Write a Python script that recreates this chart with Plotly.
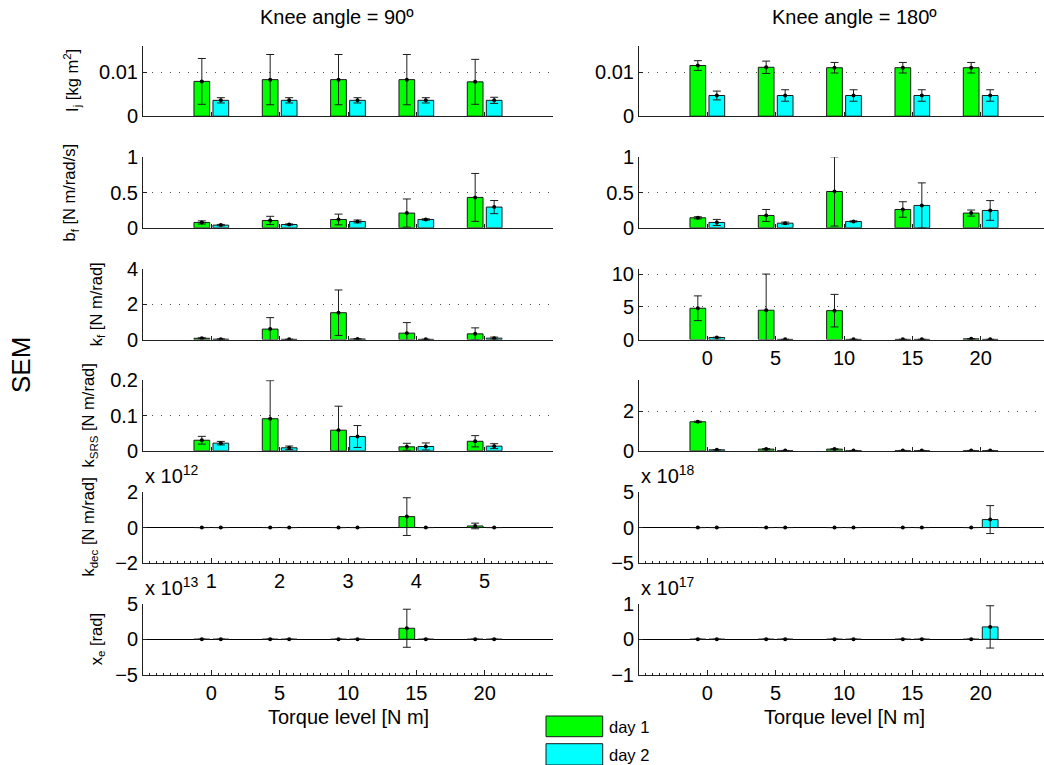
import plotly.graph_objects as go

# ---------------------------------------------------------------- data
TORQUE = [0, 5, 10, 15, 20]
DAY_LABELS = ["day 1", "day 2"]
COL_TITLES = ["Knee angle = 90º", "Knee angle = 180º"]
X_TITLE = "Torque level [N m]"
ROW_LABELS = [
    "I<sub>j</sub> [kg m<sup>2</sup>]",
    "b<sub>f</sub> [N m/rad/s]",
    "k<sub>f</sub> [N m/rad]",
    "k<sub>SRS</sub> [N m/rad]",
    "k<sub>dec</sub> [N m/rad]",
    "x<sub>e</sub> [rad]",
]

# knee angle 90 deg : means and SEM per torque level (day 1 / day 2)
IJ_90_D1 = [0.0079, 0.0083, 0.0083, 0.0083, 0.0078]
IJ_90_D1_SEM = [0.0052, 0.0057, 0.0057, 0.0057, 0.0051]
IJ_90_D2 = [0.0036, 0.0036, 0.0036, 0.0036, 0.0036]
IJ_90_D2_SEM = [0.0006, 0.0006, 0.0006, 0.0006, 0.0007]

BF_90_D1 = [0.076, 0.104, 0.118, 0.209, 0.431]
BF_90_D1_SEM = [0.022, 0.059, 0.076, 0.200, 0.340]
BF_90_D2 = [0.038, 0.047, 0.090, 0.118, 0.294]
BF_90_D2_SEM = [0.010, 0.008, 0.020, 0.010, 0.093]

KF_90_D1 = [0.07, 0.59, 1.52, 0.36, 0.32]
KF_90_D1_SEM = [0.03, 0.65, 1.29, 0.60, 0.34]
KF_90_D2 = [0.02, 0.01, 0.03, 0.01, 0.076]
KF_90_D2_SEM = [0.02, 0.01, 0.02, 0.01, 0.06]

KSRS_90_D1 = [0.030, 0.091, 0.0585, 0.0113, 0.027]
KSRS_90_D1_SEM = [0.011, 0.108, 0.068, 0.010, 0.016]
KSRS_90_D2 = [0.0217, 0.0085, 0.0406, 0.0123, 0.0132]
KSRS_90_D2_SEM = [0.005, 0.005, 0.031, 0.010, 0.007]

KDEC_90_EXP = 12
KDEC_90_D1 = [0.0, 0.0, 0.0, 0.62, 0.09]
KDEC_90_D1_SEM = [0.0, 0.0, 0.0, 1.07, 0.16]
KDEC_90_D2 = [0.0, 0.0, 0.0, 0.0, 0.0]
KDEC_90_D2_SEM = [0.0, 0.0, 0.0, 0.0, 0.0]

XE_90_EXP = 13
XE_90_D1 = [0.0, 0.0, 0.0, 1.56, 0.0]
XE_90_D1_SEM = [0.0, 0.0, 0.0, 2.70, 0.0]
XE_90_D2 = [0.0, 0.0, 0.0, 0.0, 0.0]
XE_90_D2_SEM = [0.0, 0.0, 0.0, 0.0, 0.0]

# knee angle 180 deg
IJ_180_D1 = [0.0115, 0.0111, 0.0110, 0.0110, 0.0110]
IJ_180_D1_SEM = [0.0011, 0.0014, 0.0012, 0.0012, 0.0012]
IJ_180_D2 = [0.0047, 0.0047, 0.0047, 0.0047, 0.0047]
IJ_180_D2_SEM = [0.0010, 0.0013, 0.0013, 0.0013, 0.0013]

BF_180_D1 = [0.142, 0.175, 0.515, 0.260, 0.209]
BF_180_D1_SEM = [0.015, 0.085, 0.490, 0.110, 0.043]
BF_180_D2 = [0.076, 0.066, 0.090, 0.317, 0.246]
BF_180_D2_SEM = [0.043, 0.015, 0.008, 0.320, 0.140]

KF_180_D1 = [4.80, 4.50, 4.43, 0.02, 0.10]
KF_180_D1_SEM = [1.90, 5.55, 2.50, 0.02, 0.05]
KF_180_D2 = [0.30, 0.02, 0.02, 0.02, 0.02]
KF_180_D2_SEM = [0.05, 0.01, 0.01, 0.01, 0.01]

KSRS_180_D1 = [1.47, 0.085, 0.085, 0.01, 0.01]
KSRS_180_D1_SEM = [0.03, 0.03, 0.02, 0.01, 0.01]
KSRS_180_D2 = [0.05, 0.01, 0.01, 0.01, 0.01]
KSRS_180_D2_SEM = [0.01, 0.01, 0.01, 0.01, 0.01]

KDEC_180_EXP = 18
KDEC_180_D1 = [0.0, 0.0, 0.0, 0.0, 0.0]
KDEC_180_D1_SEM = [0.0, 0.0, 0.0, 0.0, 0.0]
KDEC_180_D2 = [0.0, 0.0, 0.0, 0.0, 1.13]
KDEC_180_D2_SEM = [0.0, 0.0, 0.0, 0.0, 1.98]

XE_180_EXP = 17
XE_180_D1 = [0.0, 0.0, 0.0, 0.0, 0.0]
XE_180_D1_SEM = [0.0, 0.0, 0.0, 0.0, 0.0]
XE_180_D2 = [0.0, 0.0, 0.0, 0.0, 0.35]
XE_180_D2_SEM = [0.0, 0.0, 0.0, 0.0, 0.60]

# ------------------------------------------------------------- styling
W, H = 1044, 765
FONT = "Liberation Sans, Arial, Helvetica, sans-serif"
GREEN = "#00ff00"
CYAN = "#00ffff"
EDGE = "#1a1a1a"
AXC = "#202020"
TICK_FS = 20

BAR_W = 1.15
OFF_D1 = -1.27
OFF_D2 = 0.12

COL_X = [(143, 553), (639, W)]
X_RANGES = [[-5, 25], [-5, -5 + (W - 639) / (410 / 30)]]
ROW_TOPS = [45.7, 157.3, 269.0, 380.3, 492.3, 604.0]
ROW_H = 70.5

TORQUE_TEXT = [str(t) for t in TORQUE]
LEVEL_TEXT = ["1", "2", "3", "4", "5"]

panels = [
    # left column
    dict(col=0, row=0, d1=IJ_90_D1, e1=IJ_90_D1_SEM, d2=IJ_90_D2, e2=IJ_90_D2_SEM,
         yr=[0, 0.016], yt=[0, 0.01], ytt=["0", "0.01"]),
    dict(col=0, row=1, d1=BF_90_D1, e1=BF_90_D1_SEM, d2=BF_90_D2, e2=BF_90_D2_SEM,
         yr=[0, 1], yt=[0, 0.5, 1], ytt=["0", "0.5", "1"]),
    dict(col=0, row=2, d1=KF_90_D1, e1=KF_90_D1_SEM, d2=KF_90_D2, e2=KF_90_D2_SEM,
         yr=[0, 4], yt=[0, 2, 4], ytt=["0", "2", "4"]),
    dict(col=0, row=3, d1=KSRS_90_D1, e1=KSRS_90_D1_SEM, d2=KSRS_90_D2, e2=KSRS_90_D2_SEM,
         yr=[0, 0.2], yt=[0, 0.1, 0.2], ytt=["0", "0.1", "0.2"]),
    dict(col=0, row=4, d1=KDEC_90_D1, e1=KDEC_90_D1_SEM, d2=KDEC_90_D2, e2=KDEC_90_D2_SEM,
         yr=[-2, 2], yt=[-2, 0, 2], ytt=["\u22122", "0", "2"], exp=KDEC_90_EXP,
         xtt=LEVEL_TEXT, minor=True),
    dict(col=0, row=5, d1=XE_90_D1, e1=XE_90_D1_SEM, d2=XE_90_D2, e2=XE_90_D2_SEM,
         yr=[-5, 5], yt=[-5, 0, 5], ytt=["\u22125", "0", "5"], exp=XE_90_EXP,
         xtt=TORQUE_TEXT, minor=True, xtitle=True),
    # right column
    dict(col=1, row=0, d1=IJ_180_D1, e1=IJ_180_D1_SEM, d2=IJ_180_D2, e2=IJ_180_D2_SEM,
         yr=[0, 0.016], yt=[0, 0.01], ytt=["0", "0.01"]),
    dict(col=1, row=1, d1=BF_180_D1, e1=BF_180_D1_SEM, d2=BF_180_D2, e2=BF_180_D2_SEM,
         yr=[0, 1], yt=[0, 0.5, 1], ytt=["0", "0.5", "1"]),
    dict(col=1, row=2, d1=KF_180_D1, e1=KF_180_D1_SEM, d2=KF_180_D2, e2=KF_180_D2_SEM,
         yr=[0, 10.83], yt=[0, 5, 10], ytt=["0", "5", "10"], xtt=TORQUE_TEXT),
    dict(col=1, row=3, d1=KSRS_180_D1, e1=KSRS_180_D1_SEM, d2=KSRS_180_D2, e2=KSRS_180_D2_SEM,
         yr=[0, 3.57], yt=[0, 2], ytt=["0", "2"]),
    dict(col=1, row=4, d1=KDEC_180_D1, e1=KDEC_180_D1_SEM, d2=KDEC_180_D2, e2=KDEC_180_D2_SEM,
         yr=[-5, 5], yt=[-5, 0, 5], ytt=["\u22125", "0", "5"], exp=KDEC_180_EXP, minor=True),
    dict(col=1, row=5, d1=XE_180_D1, e1=XE_180_D1_SEM, d2=XE_180_D2, e2=XE_180_D2_SEM,
         yr=[-1, 1], yt=[-1, 0, 1], ytt=["\u22121", "0", "1"], exp=XE_180_EXP,
         xtt=TORQUE_TEXT, minor=True, xtitle=True),
]


def px_x(px):
    return px / W


def px_y(py):
    return 1 - py / H


fig = go.Figure()
layout = {}
annotations = []

for i, p in enumerate(panels, start=1):
    xa, ya = f"x{i}", f"y{i}"
    xkey, ykey = ("xaxis" if i == 1 else f"xaxis{i}"), ("yaxis" if i == 1 else f"yaxis{i}")
    left, right = COL_X[p["col"]]
    top = ROW_TOPS[p["row"]]
    bot = top + ROW_H

    for vals, sems, off, color, name in [
        (p["d1"], p["e1"], OFF_D1, GREEN, DAY_LABELS[0]),
        (p["d2"], p["e2"], OFF_D2, CYAN, DAY_LABELS[1]),
    ]:
        fig.add_trace(go.Bar(
            x=TORQUE, y=vals, width=BAR_W, offset=off, xaxis=xa, yaxis=ya,
            marker=dict(color=color, line=dict(color=EDGE, width=1)),
            name=name, showlegend=False,
        ))
        fig.add_trace(go.Scatter(
            x=[t + off + BAR_W / 2 for t in TORQUE], y=vals, xaxis=xa, yaxis=ya,
            mode="markers", marker=dict(color="black", size=4),
            error_y=dict(type="data", array=sems, visible=True,
                         color="#1e1e1e", thickness=1, width=4),
            showlegend=False, cliponaxis=True,
        ))

    xt = p.get("xtt")
    xax = dict(
        domain=[px_x(left), px_x(right)], range=X_RANGES[p["col"]], anchor=ya,
        automargin=False,
        showgrid=False, zeroline=False, showline=True, linecolor=AXC, linewidth=1,
        tickmode="array", tickvals=TORQUE,
        ticks="inside", ticklen=4, tickcolor=AXC,
        tickfont=dict(family=FONT, size=TICK_FS, color="black"),
        fixedrange=True,
    )
    if xt:
        xax["ticktext"] = xt
        xax["showticklabels"] = True
    else:
        xax["showticklabels"] = False
    if p.get("minor"):
        xax["minor"] = dict(dtick=0.5, ticks="inside", ticklen=2, tickcolor=AXC, showgrid=False)
        xax["ticklen"] = 5
    layout[xkey] = xax

    zero_inside = p["yr"][0] < 0
    layout[ykey] = dict(
        domain=[px_y(bot), px_y(top)], range=p["yr"], anchor=xa,
        automargin=False,
        tickmode="array", tickvals=p["yt"], ticktext=p["ytt"],
        showgrid=True, gridcolor="#4a4a4a", gridwidth=1, griddash="1px,8px",
        zeroline=zero_inside, zerolinecolor="black", zerolinewidth=1,
        showline=True, linecolor=AXC, linewidth=1,
        ticks="inside", ticklen=4, tickcolor=AXC,
        tickfont=dict(family=FONT, size=TICK_FS, color="black"),
        fixedrange=True,
    )

    if "exp" in p:
        annotations.append(dict(
            x=px_x(left), y=px_y(top - 3), xref="paper", yref="paper",
            xanchor="left", yanchor="bottom", showarrow=False,
            text=f"x 10<sup>{p['exp']}</sup>",
            font=dict(family=FONT, size=TICK_FS, color="black"),
        ))
    if p.get("xtitle"):
        annotations.append(dict(
            x=px_x((left + left + 410) / 2), y=px_y(bot + 42),
            xref="paper", yref="paper", xanchor="center", yanchor="middle",
            showarrow=False, text=X_TITLE,
            font=dict(family=FONT, size=TICK_FS, color="black"),
        ))
    if p["col"] == 0:
        ylab_x = [72, 70, 97, 89, 89, 97][p["row"]]
        annotations.append(dict(
            x=px_x(ylab_x), y=px_y(top + ROW_H / 2), xref="paper", yref="paper",
            xanchor="center", yanchor="middle", textangle=-90, showarrow=False,
            text=ROW_LABELS[p["row"]],
            font=dict(family=FONT, size=16.5, color="black"),
        ))

# column titles
for cx, title in zip([337, 854], COL_TITLES):
    annotations.append(dict(
        x=px_x(cx), y=px_y(17), xref="paper", yref="paper",
        xanchor="center", yanchor="middle", showarrow=False, text=title,
        font=dict(family=FONT, size=TICK_FS, color="black"),
    ))

# vertical "SEM" label
annotations.append(dict(
    x=px_x(21), y=px_y(365), xref="paper", yref="paper",
    xanchor="center", yanchor="middle", textangle=-90, showarrow=False,
    text="SEM", font=dict(family=FONT, size=26, color="black"),
))

# legend: colour patches with labels
shapes = []
for (y0, y1), color, label in zip([(716, 736.7), (743.7, 765)], [GREEN, CYAN], DAY_LABELS):
    shapes.append(dict(
        type="rect", xref="paper", yref="paper",
        x0=px_x(546), x1=px_x(602.7), y0=px_y(y1), y1=px_y(y0),
        fillcolor=color, line=dict(color=EDGE, width=1),
    ))
    annotations.append(dict(
        x=px_x(607), y=px_y((y0 + y1) / 2 + 1), xref="paper", yref="paper",
        xanchor="left", yanchor="middle", showarrow=False, text=label,
        font=dict(family=FONT, size=16.5, color="black"),
    ))

fig.update_layout(
    width=W, height=H,
    margin=dict(l=0, r=0, t=0, b=0, autoexpand=False),
    paper_bgcolor="white", plot_bgcolor="white",
    barmode="overlay", showlegend=False,
    annotations=annotations, shapes=shapes,
    font=dict(family=FONT, color="black"),
    **layout,
)

fig.write_html("out.html", config={"displayModeBar": False})
